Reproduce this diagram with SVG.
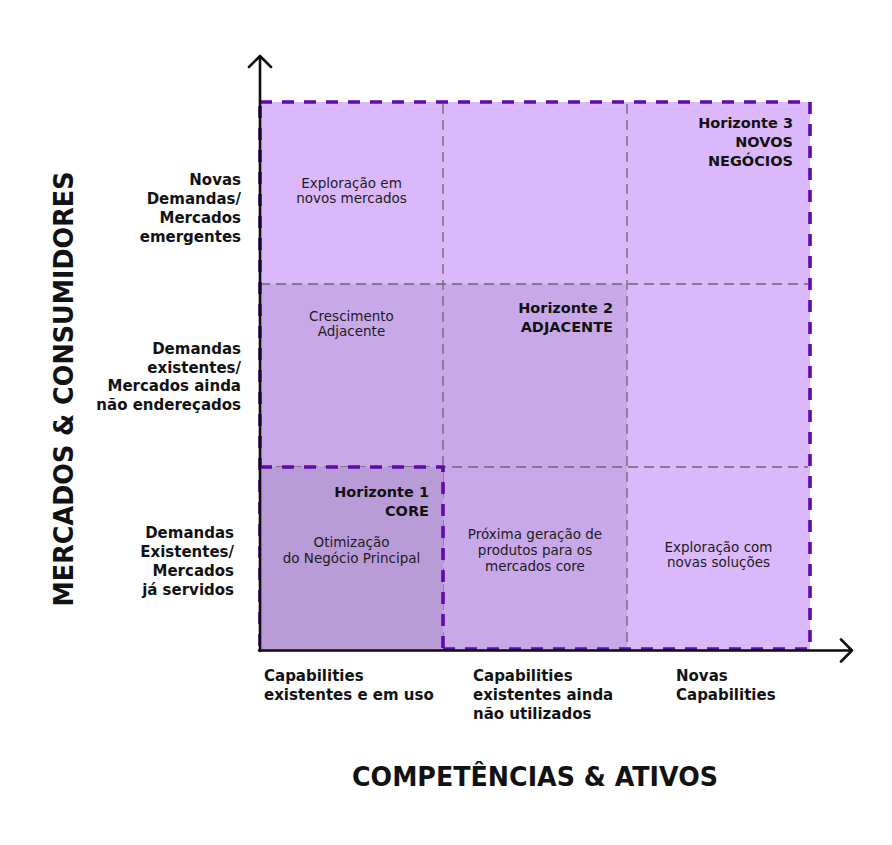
<svg xmlns="http://www.w3.org/2000/svg" width="892" height="845" viewBox="0 0 892 845">
<style>
text{font-family:"DejaVu Sans","Liberation Sans",sans-serif;fill:#121212}
.lab{font-weight:bold;font-size:15px}
.end{text-anchor:end}
.mid{text-anchor:middle}
.hz{font-weight:bold;font-size:14.5px;text-anchor:end}
.cell{font-size:13.5px;text-anchor:middle;fill:#1c1c1c}
.title{font-weight:bold;font-size:26px}
.grid{stroke:#6a6a6a;stroke-width:1.3;stroke-dasharray:10 6;fill:none}
.pb{stroke:#5f0aab;stroke-width:3.6;stroke-dasharray:12 10;fill:none}
.axis{stroke:#0d0d0d;stroke-width:2.6;fill:none;stroke-linecap:round;stroke-linejoin:round}
</style>
<rect width="892" height="845" fill="#ffffff"/>
<g id="horizonte3">
<rect x="260" y="102" width="550" height="548" fill="#dbb8fc"/>
</g>
<g id="horizonte2">
<rect x="260" y="284" width="367" height="366" fill="#c8a8e9"/>
</g>
<g id="grid">
<line class="grid" x1="443" y1="104" x2="443" y2="650"/>
<line class="grid" x1="627" y1="104" x2="627" y2="650"/>
<line class="grid" x1="260" y1="284" x2="808" y2="284"/>
<line class="grid" x1="260" y1="467" x2="808" y2="467"/>
</g>
<g id="horizonte3-border">
<rect class="pb" x="260" y="102" width="550" height="547"/>
</g>
<g id="horizonte1">
<rect x="260" y="467" width="183" height="183" fill="#b99bd7"/>
<path class="pb" d="M260,467 H443 V649"/>
</g>
<g id="connectors">
<path class="axis" d="M260,651 V56 M249,67 L260,56 L271,67"/>
<path class="axis" d="M259,650.5 H852 M841,639.5 L852,650.5 L841,661.5"/>
</g>
<g id="label-h3">
<text class="hz" x="793" y="128">Horizonte 3</text>
<text class="hz" x="793" y="147">NOVOS</text>
<text class="hz" x="793" y="166">NEGÓCIOS</text>
</g>
<g id="label-h2">
<text class="hz" x="613" y="313">Horizonte 2</text>
<text class="hz" x="613" y="332">ADJACENTE</text>
</g>
<g id="label-h1">
<text class="hz" x="429" y="497">Horizonte 1</text>
<text class="hz" x="429" y="516">CORE</text>
</g>
<g id="cell-exploracao-mercados">
<text class="cell" x="351.5" y="188">Exploração em</text>
<text class="cell" x="351.5" y="203">novos mercados</text>
</g>
<g id="cell-crescimento">
<text class="cell" x="351.5" y="321">Crescimento</text>
<text class="cell" x="351.5" y="336">Adjacente</text>
</g>
<g id="cell-otimizacao">
<text class="cell" x="351.5" y="547">Otimização</text>
<text class="cell" x="351.5" y="563">do Negócio Principal</text>
</g>
<g id="cell-proxima">
<text class="cell" x="535" y="539">Próxima geração de</text>
<text class="cell" x="535" y="555">produtos para os</text>
<text class="cell" x="535" y="571">mercados core</text>
</g>
<g id="cell-exploracao-solucoes">
<text class="cell" x="718.5" y="552">Exploração com</text>
<text class="cell" x="718.5" y="567">novas soluções</text>
</g>
<g id="row-novas">
<text class="lab end" x="241" y="185">Novas</text>
<text class="lab end" x="241" y="204">Demandas/</text>
<text class="lab end" x="241" y="223">Mercados</text>
<text class="lab end" x="241" y="242">emergentes</text>
</g>
<g id="row-existentes">
<text class="lab end" x="241" y="354">Demandas</text>
<text class="lab end" x="241" y="373">existentes/</text>
<text class="lab end" x="241" y="391">Mercados ainda</text>
<text class="lab end" x="241" y="410">não endereçados</text>
</g>
<g id="row-servidos">
<text class="lab end" x="234" y="538">Demandas</text>
<text class="lab end" x="234" y="557">Existentes/</text>
<text class="lab end" x="234" y="576">Mercados</text>
<text class="lab end" x="234" y="595">já servidos</text>
</g>
<g id="col-uso">
<text class="lab" x="264" y="681">Capabilities</text>
<text class="lab" x="264" y="700">existentes e em uso</text>
</g>
<g id="col-nao-utilizados">
<text class="lab" x="473" y="681">Capabilities</text>
<text class="lab" x="473" y="700">existentes ainda</text>
<text class="lab" x="473" y="719">não utilizados</text>
</g>
<g id="col-novas">
<text class="lab" x="676" y="681">Novas</text>
<text class="lab" x="676" y="700">Capabilities</text>
</g>
<g id="title-x">
<text class="title" x="352" y="786" textLength="366" lengthAdjust="spacingAndGlyphs">COMPETÊNCIAS &amp; ATIVOS</text>
</g>
<g id="title-y">
<text class="title mid" transform="translate(73,389) rotate(-90)" x="0" y="0" textLength="435" lengthAdjust="spacingAndGlyphs">MERCADOS &amp; CONSUMIDORES</text>
</g>
</svg>
